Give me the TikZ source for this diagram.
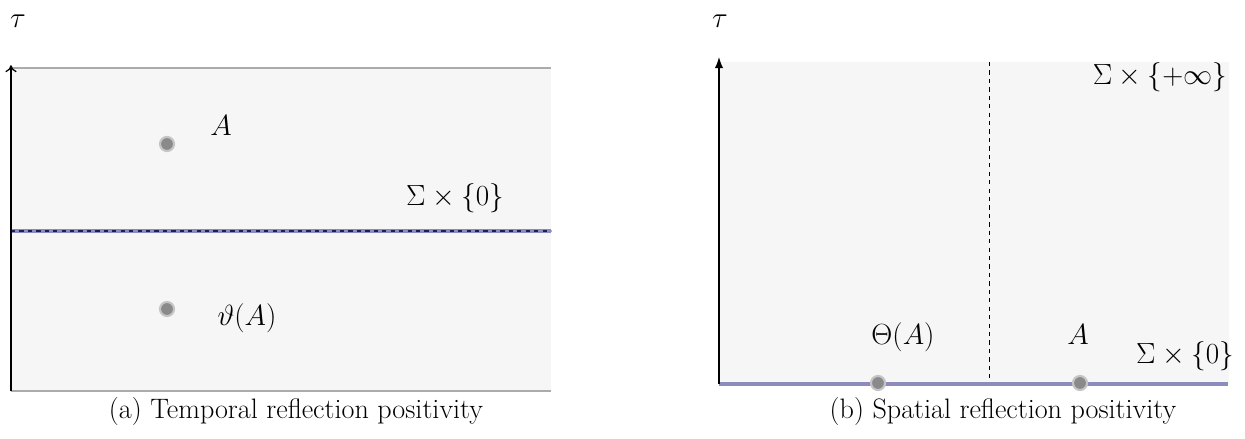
\documentclass[tikz,border=0pt]{standalone}
\usepackage{amsmath,amssymb}
\usepackage{tikz}
\usetikzlibrary{arrows.meta,positioning}
\definecolor{paneFill}{HTML}{F6F6F6}
\definecolor{edgeGray}{HTML}{ABABAB}
\definecolor{sliceBlue}{HTML}{8C8CBC}
\definecolor{sliceNavy}{HTML}{1E1E5A}
\definecolor{dotGray}{HTML}{8A8A8A}

\begin{document}
\begin{tikzpicture}[x=0.025cm, y=-0.025cm,
  lbl/.style={font=\fontsize{22}{26}\selectfont, inner sep=0pt, anchor=base},
  captxt/.style={font=\fontsize{20}{24}\selectfont, inner sep=0pt, anchor=base},
  spot/.style={circle, fill=dotGray, draw=dotGray!50, line width=1.5pt,
               minimum size=10pt, inner sep=0pt},
  rim/.style={draw=edgeGray, line width=1.4pt},
  slice/.style={draw=sliceBlue, line width=2.8pt}
]
  \useasboundingbox (0,0) rectangle (1245,439);

  % (a) temporal
  \fill[paneFill] (11,68) rectangle (551,391);
  \coordinate (tl) at (11,68);   \coordinate (tr) at (551,68);
  \coordinate (bl) at (11,391);  \coordinate (br) at (551,391);
  \coordinate (ml) at (11,231);  \coordinate (mr) at (551,231);
  \draw[rim] (tl) -- (tr);
  \draw[rim] (bl) -- (br);
  \draw[slice] (ml) -- (mr);
  \draw[sliceNavy, dashed, line width=0.9pt] (ml) -- (mr);
  \draw[line width=0.9pt, -{To[length=5pt,width=8pt]}] (bl) -- ([yshift=2pt]tl);
  \node[lbl] (tauA) at (18,28) {$\tau$};
  \node[spot] (pA) at (167,144) {};
  \node[spot] (pB) at (167,309) {};
  \node[lbl] (labA) at (221,136) {$A$};
  \node[lbl] (labB) at (247,325) {$\vartheta(A)$};
  \node[lbl] (labS) at (455,206) {$\Sigma\times\{0\}$};
  \node[captxt] (capA) at (296,418) {(a) Temporal reflection positivity};

  % (b) spatial
  \fill[paneFill] (719,62) rectangle (1229,384);
  \coordinate (ol) at (719,384); \coordinate (or) at (1228,384);
  \coordinate (ot) at (719,57);
  \coordinate (dt) at (989,62);  \coordinate (db) at (989,384);
  \draw[dashed, line width=0.6pt] (dt) -- (db);
  \draw[slice] (ol) -- (or);
  \draw[line width=0.9pt, -{Latex[length=8pt,width=6pt]}] (ol) -- (ot);
  \node[lbl] (tauB) at (720,28) {$\tau$};
  \node[spot] (pC) at (878,383) {};
  \node[spot] (pD) at (1080,383) {};
  \node[lbl] (labC) at (903,344) {$\Theta(A)$};
  \node[lbl] (labD) at (1078,344) {$A$};
  \node[lbl] (labT) at (1160,85) {$\Sigma\times\{+\infty\}$};
  \node[lbl] (labZ) at (1185,363) {$\Sigma\times\{0\}$};
  \node[captxt] (capB) at (1003,418) {(b) Spatial reflection positivity};
\end{tikzpicture}
\end{document}
